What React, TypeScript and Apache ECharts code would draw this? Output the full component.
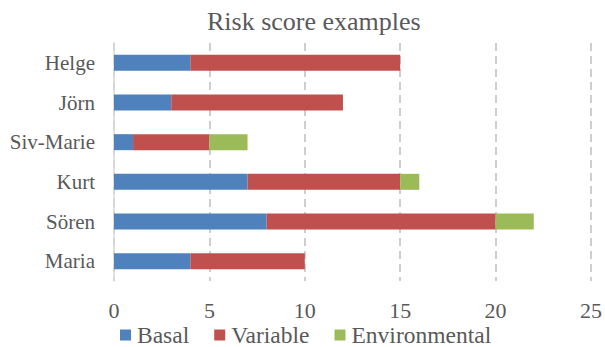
import React, { useEffect, useRef } from "react";
import * as echarts from "echarts";

const categories = ["Helge", "Jörn", "Siv-Marie", "Kurt", "Sören", "Maria"];
const basal = [4, 3, 1, 7, 8, 4];
const variable = [11, 9, 4, 8, 12, 6];
const environmental = [0, 0, 2, 1, 2, 0];
const seriesNames = ["Basal", "Variable", "Environmental"];
const colors = ["#4F81BD", "#C0504D", "#9BBB59"];

const FONT = "Liberation Serif";
const TEXT = "#595959";

export default function App() {
  const ref = useRef<HTMLDivElement>(null);
  useEffect(() => {
    if (!ref.current) return;
    const chart = echarts.init(ref.current, null, { renderer: "svg" });
    const dataSets = [basal, variable, environmental];
    chart.setOption({
      animation: false,
      textStyle: { fontFamily: FONT },
      title: {
        text: "Risk score examples",
        left: 207,
        top: 8,
        padding: 0,
        textStyle: { fontFamily: FONT, fontSize: 26, fontWeight: "normal", color: TEXT },
      },
      legend: {
        data: seriesNames,
        left: 120,
        top: 323,
        padding: 0,
        itemWidth: 11,
        itemHeight: 11,
        itemGap: 25,
        icon: "rect",
        textStyle: { fontFamily: FONT, fontSize: 23.5, lineHeight: 20, color: TEXT, padding: [0, 0, 0, 1] },
      },
      grid: { left: 114, right: 10, top: 43, bottom: 66, containLabel: false },
      xAxis: {
        type: "value",
        min: 0,
        max: 25,
        interval: 5,
        axisLine: { show: false },
        axisTick: { show: false },
        axisLabel: { fontFamily: FONT, fontSize: 22, color: TEXT, margin: 18 },
        splitLine: { show: true, lineStyle: { color: "#BFBFBF", type: [8, 5], width: 1.5 } },
      },
      yAxis: {
        type: "category",
        data: categories,
        inverse: true,
        axisLine: { show: true, lineStyle: { color: "#D9D9D9", width: 1.5 } },
        axisTick: { show: false },
        axisLabel: { fontFamily: FONT, fontSize: 21, color: TEXT, margin: 19 },
        splitLine: { show: false },
      },
      series: seriesNames.map((name, i) => ({
        name,
        type: "bar",
        stack: "total",
        barWidth: 16,
        data: dataSets[i],
        itemStyle: { color: colors[i] },
      })),
    });
    return () => chart.dispose();
  }, []);
  return <div ref={ref} style={{ width: 605, height: 347, position: "absolute", left: 0, top: 0 }} />;
}
